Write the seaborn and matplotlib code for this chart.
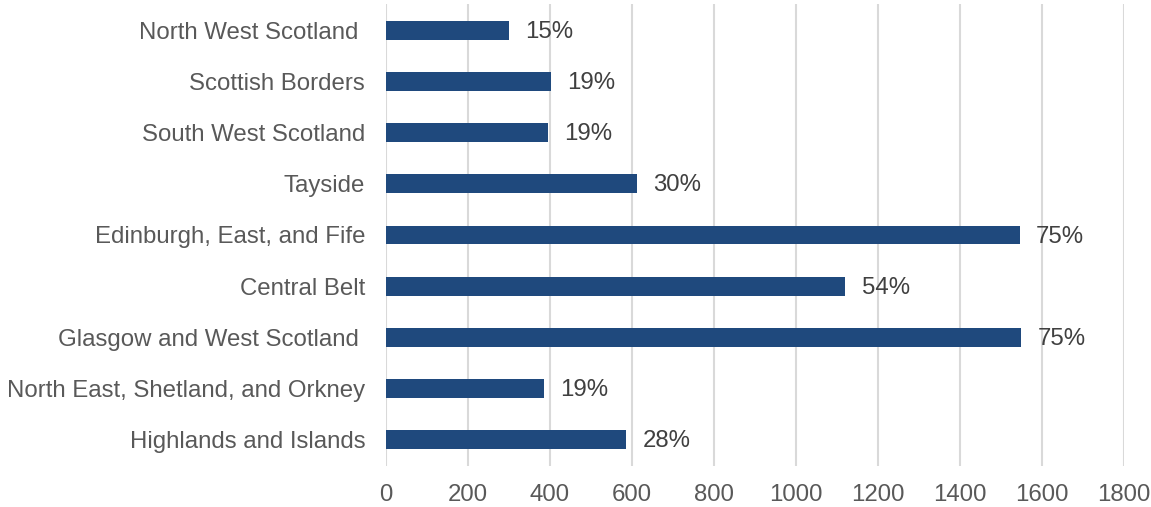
import matplotlib
matplotlib.use("Agg")
import matplotlib.pyplot as plt
import seaborn as sns
import pandas as pd

regions = [
    "North West Scotland ",
    "Scottish Borders",
    "South West Scotland",
    "Tayside",
    "Edinburgh, East, and Fife",
    "Central Belt",
    "Glasgow and West Scotland ",
    "North East, Shetland, and Orkney",
    "Highlands and Islands",
]
counts = [300, 402, 395, 612, 1546, 1120, 1549, 385, 585]
shares = ["15%", "19%", "19%", "30%", "75%", "54%", "75%", "19%", "28%"]
xticks = [0, 200, 400, 600, 800, 1000, 1200, 1400, 1600, 1800]

df = pd.DataFrame({"region": regions, "count": counts, "share": shares})

sns.set_style("white")
plt.rcParams["font.family"] = ["Liberation Sans", "DejaVu Sans"]

fig, ax = plt.subplots(figsize=(11.51, 5.07), dpi=100)
fig.subplots_adjust(left=0.3354, right=0.9765, top=0.9913, bottom=0.0817)

sns.barplot(data=df, y="region", x="count", orient="h", color="#1F497D",
            saturation=1, width=0.37, linewidth=0, ax=ax, zorder=3)

for i, (v, s) in enumerate(zip(counts, shares)):
    ax.text(v + 40, i + 0.03, s, va="center", ha="left", fontsize=17.3,
            color="#404040")

ax.set_xlim(0, 1800)
ax.set_xticks(xticks)
ax.set_xticklabels([str(t) for t in xticks])
ax.set_xlabel("")
ax.set_ylabel("")
ax.xaxis.grid(True, color="#d9d9d9", linewidth=1.5, zorder=0)
ax.yaxis.grid(False)
for sp in ax.spines.values():
    sp.set_visible(False)
ax.tick_params(axis="x", length=0, pad=13, labelsize=17.3, labelcolor="#595959")
ax.tick_params(axis="y", length=0, pad=15, labelsize=17.3, labelcolor="#595959")

fig.savefig("out.png", dpi=100)
